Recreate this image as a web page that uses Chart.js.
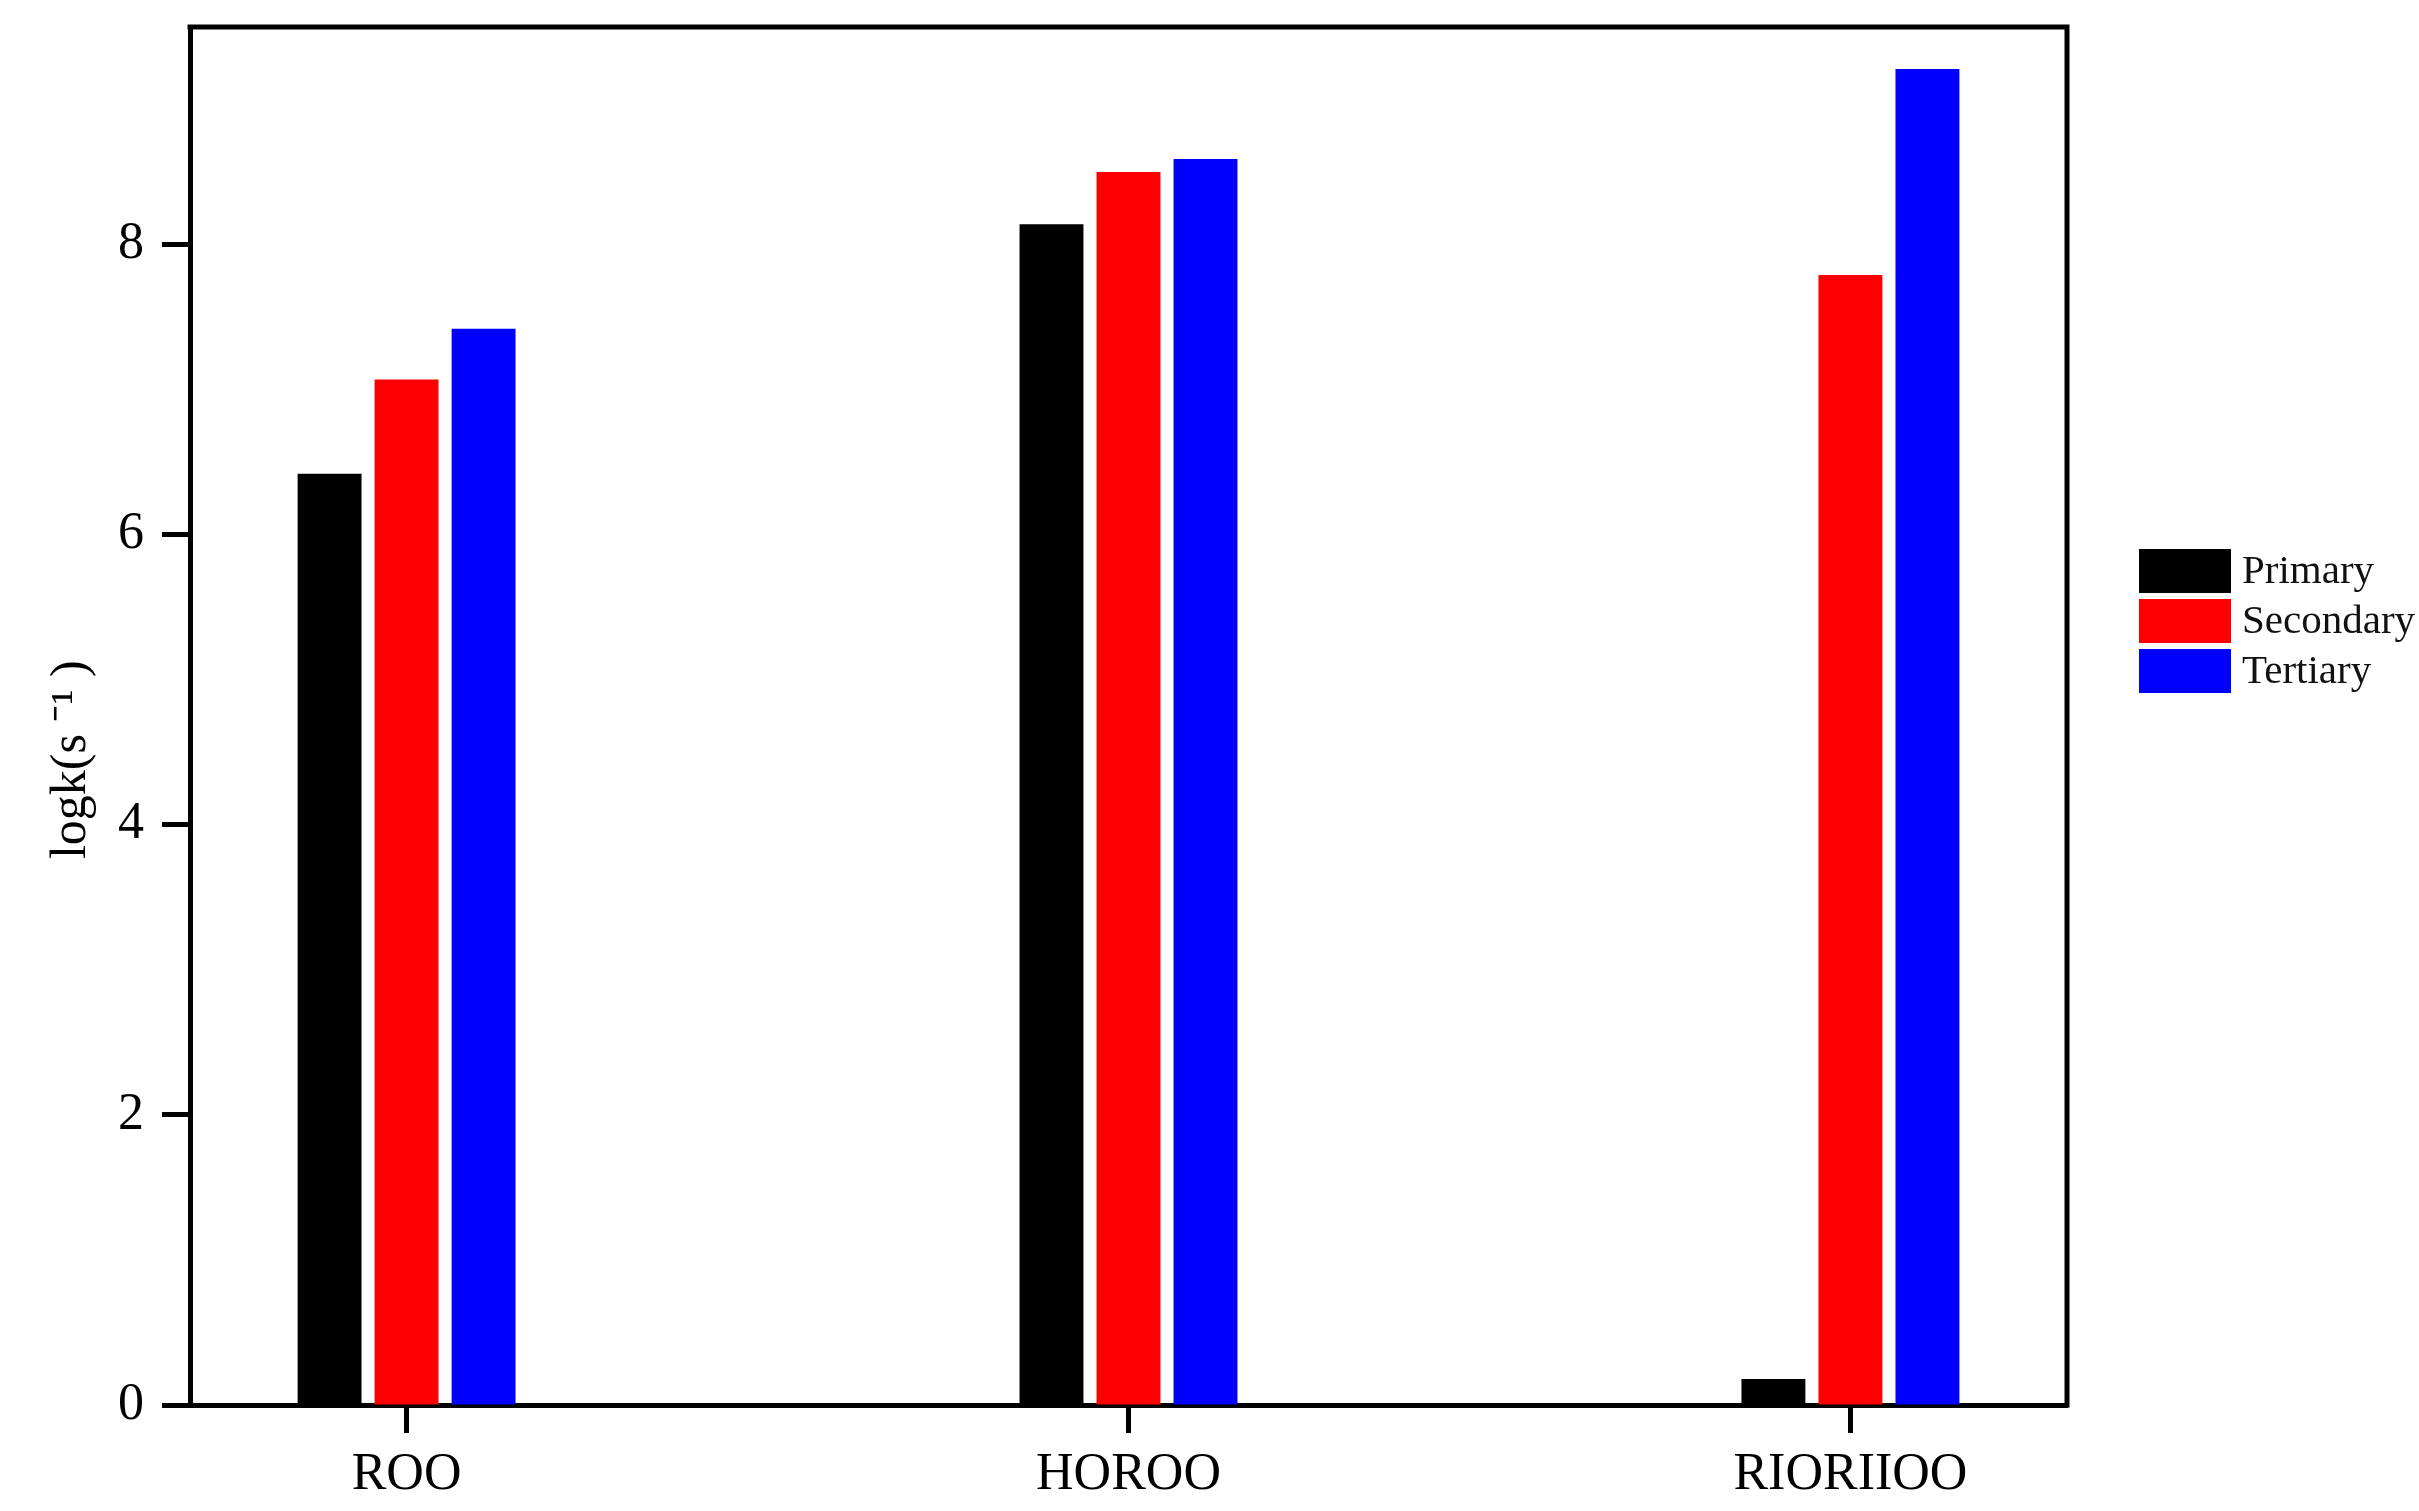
<!DOCTYPE html>
<html>
<head>
<meta charset="utf-8">
<script src="https://cdn.jsdelivr.net/npm/chart.js@4/dist/chart.umd.min.js"></script>
<style>
  html, body { margin: 0; padding: 0; background: #ffffff; }
  #wrap { width: 2419px; height: 1511px; }
</style>
</head>
<body>
<div id="wrap"><canvas id="c" width="2419" height="1511"></canvas></div>
<script>
// ---- data ----
const categories = ["ROO", "HOROO", "RIORIIOO"];
const primary    = [6.42, 8.14, 0.18];
const secondary  = [7.07, 8.50, 7.79];
const tertiary   = [7.42, 8.59, 9.21];
const seriesNames = ["Primary", "Secondary", "Tertiary"];
const yTicks = [0, 2, 4, 6, 8];

const FONT = "'Liberation Serif', 'Times New Roman', serif";

function toPoints(arr) {
  return arr.map((v, i) => ({ x: i + 1, y: v }));
}

const framePlugin = {
  id: 'frame',
  afterDraw(chart) {
    const { ctx, chartArea: a } = chart;
    ctx.save();
    ctx.strokeStyle = '#000';
    ctx.lineWidth = 5;
    ctx.lineCap = 'square';
    ctx.beginPath();
    ctx.moveTo(a.left, a.top);
    ctx.lineTo(a.right, a.top);
    ctx.lineTo(a.right, a.bottom);
    ctx.stroke();
    ctx.restore();
  }
};

const customLegend = {
  id: 'customLegend',
  afterDraw(chart, args, opts) {
    const { ctx } = chart;
    ctx.save();
    ctx.font = opts.fontSize + 'px ' + FONT;
    ctx.textBaseline = 'middle';
    ctx.textAlign = 'left';
    chart.data.datasets.forEach((ds, i) => {
      const y = opts.top + i * opts.rowStep;
      ctx.fillStyle = ds.backgroundColor;
      ctx.fillRect(opts.left, y, opts.boxW, opts.boxH);
      ctx.fillStyle = '#111';
      ctx.fillText(ds.label, opts.left + opts.boxW + opts.gap, y + opts.boxH / 2 + 1);
    });
    ctx.restore();
  }
};

new Chart(document.getElementById('c'), {
  type: 'bar',
  data: {
    datasets: [
      { label: seriesNames[0], data: toPoints(primary),   backgroundColor: '#000000' },
      { label: seriesNames[1], data: toPoints(secondary), backgroundColor: '#ff0000' },
      { label: seriesNames[2], data: toPoints(tertiary),  backgroundColor: '#0000ff' }
    ]
  },
  options: {
    responsive: false,
    animation: false,
    devicePixelRatio: 1,
    categoryPercentage: 0.32,
    barPercentage: 0.83,
    layout: { padding: { top: 27, right: 352, left: 0, bottom: 0 } },
    plugins: {
      legend: { display: false },
      tooltip: { enabled: false },
      customLegend: { left: 2139, top: 549, boxW: 92, boxH: 44, rowStep: 50, gap: 11, fontSize: 41 }
    },
    scales: {
      x: {
        type: 'linear',
        min: 0.7,
        max: 3.3,
        offset: false,
        afterBuildTicks(scale) {
          scale.ticks = categories.map((c, i) => ({ value: i + 1 }));
        },
        afterFit(scale) {
          scale.height = 106;
          scale.paddingLeft = 0; scale.paddingRight = 0;
          scale.paddingTop = 0; scale.paddingBottom = 0;
        },
        ticks: {
          callback: (v) => categories[Math.round(v) - 1] || '',
          font: { family: FONT, size: 52 },
          color: '#000',
          padding: 11,
          maxRotation: 0,
          autoSkip: false
        },
        grid: {
          display: true,
          offset: false,
          drawOnChartArea: false,
          drawTicks: true,
          tickLength: 28,
          tickWidth: 5,
          tickColor: '#000'
        },
        border: { display: true, color: '#000', width: 5 }
      },
      y: {
        type: 'linear',
        min: 0,
        max: 9.5,
        afterBuildTicks(scale) {
          scale.ticks = yTicks.map(v => ({ value: v }));
        },
        afterFit(scale) {
          scale.width = 190;
          scale.paddingTop = 0; scale.paddingBottom = 0;
          scale.paddingLeft = 0; scale.paddingRight = 0;
        },
        ticks: {
          font: { family: FONT, size: 52 },
          color: '#000',
          padding: 18
        },
        grid: {
          display: true,
          drawOnChartArea: false,
          drawTicks: true,
          tickLength: 28,
          tickWidth: 5,
          tickColor: '#000'
        },
        border: { display: true, color: '#000', width: 5 },
        title: {
          display: true,
          text: 'logk(s ⁻¹ )       ',
          font: { family: FONT, size: 50 },
          color: '#000',
          padding: { top: 42, bottom: 0 }
        }
      }
    }
  },
  plugins: [framePlugin, customLegend]
});
</script>
</body>
</html>
